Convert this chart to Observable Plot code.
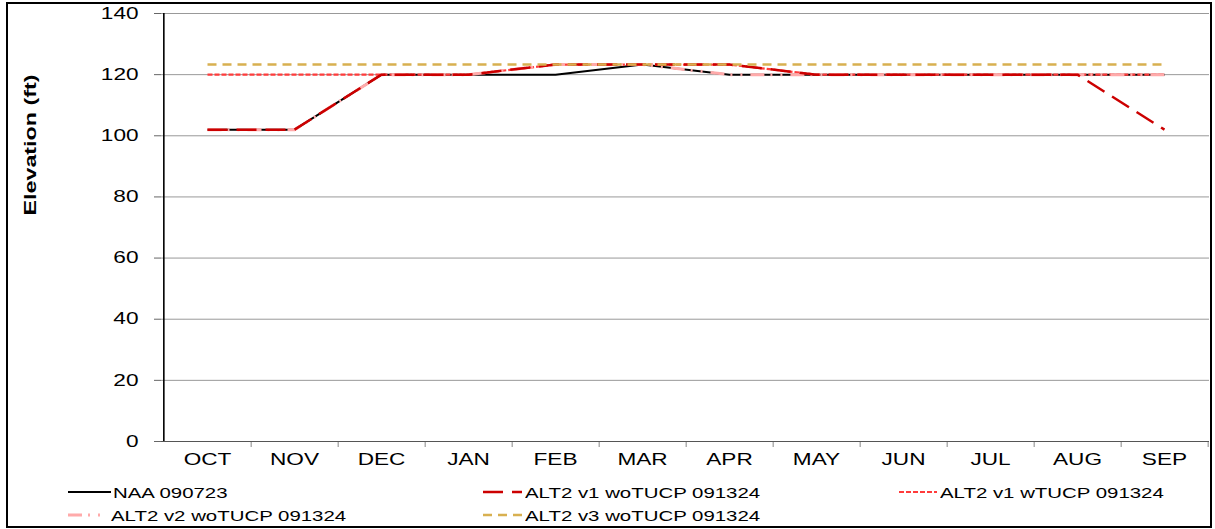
<!DOCTYPE html>
<html><head><meta charset="utf-8">
<script src="https://cdn.jsdelivr.net/npm/d3@7"></script>
<script src="https://cdn.jsdelivr.net/npm/@observablehq/plot@0.6"></script>
<style>
html,body{margin:0;padding:0;background:#fff;}
#wrap{position:relative;width:1215px;height:529px;overflow:hidden;font-family:"Liberation Sans",Arial,sans-serif;}
#chart{position:absolute;left:0;top:0;}
#border{position:absolute;left:6px;top:2px;width:1206px;height:526px;box-sizing:border-box;border:2.5px solid #000;pointer-events:none;}
.leg{position:absolute;display:flex;align-items:center;height:18px;white-space:nowrap;}
.leg svg{display:block;flex:none;}
.leg span{display:inline-block;font-size:15px;transform:scaleX(1.36);transform-origin:left center;color:#000;}
</style></head>
<body><div id="wrap"><div id="chart"></div><div id="legend"></div><div id="border"></div></div>
<script>
// ---- data ----
const months = ["OCT","NOV","DEC","JAN","FEB","MAR","APR","MAY","JUN","JUL","AUG","SEP"];
const naa090723     = [102,102,120,120,120,123.3,120,120,120,120,120,120];
const alt2v1woTUCP  = [102,102,120,120,123.3,123.3,123.3,120,120,120,120,102];
const alt2v1wTUCP   = [120,120,120,120,123.3,123.3,123.3,120,120,120,120,120];
const alt2v2woTUCP  = [102,102,120,120,123.3,123.3,120,120,120,120,120,120];
const alt2v3woTUCP  = [123.3,123.3,123.3,123.3,123.3,123.3,123.3,123.3,123.3,123.3,123.3,123.3];
const yTicks = [0,20,40,60,80,100,120,140];
const seriesNames = ["NAA 090723","ALT2 v1 woTUCP 091324","ALT2 v1 wTUCP 091324","ALT2 v2 woTUCP 091324","ALT2 v3 woTUCP 091324"];
const yLabel = "Elevation (ft)";

// ---- styles ----
const styles = {
  "NAA 090723":            {stroke:"#000000", strokeWidth:2,   dash:null},
  "ALT2 v1 woTUCP 091324": {stroke:"#cc0000", strokeWidth:2.5, dash:"20,9"},
  "ALT2 v1 wTUCP 091324":  {stroke:"#ff3b3b", strokeWidth:2.2, dash:"5,2"},
  "ALT2 v2 woTUCP 091324": {stroke:"#ffaaaa", strokeWidth:3,   dash:"14,6,2,8,2,8"},
  "ALT2 v3 woTUCP 091324": {stroke:"#d8b050", strokeWidth:2.6, dash:"9,6"}
};
const values = {
  "NAA 090723": naa090723,
  "ALT2 v1 woTUCP 091324": alt2v1woTUCP,
  "ALT2 v1 wTUCP 091324": alt2v1wTUCP,
  "ALT2 v2 woTUCP 091324": alt2v2woTUCP,
  "ALT2 v3 woTUCP 091324": alt2v3woTUCP
};
const rows = name => months.map((m,i) => ({month:m, value:values[name][i]}));

const W = 1215, H = 470, mL = 161, mR = 6, mT = 13, mB = 29;
const step = (W - mL - mR) / months.length;

const drawOrder = ["NAA 090723","ALT2 v1 wTUCP 091324","ALT2 v2 woTUCP 091324","ALT2 v1 woTUCP 091324","ALT2 v3 woTUCP 091324"];

const chart = Plot.plot({
  width: W, height: H,
  marginLeft: mL, marginRight: mR, marginTop: mT, marginBottom: mB,
  style: {fontFamily: "'Liberation Sans', Arial, sans-serif", fontSize: "16.5px", color: "#000", background: "transparent"},
  x: {type: "point", domain: months, padding: 0.5, label: null},
  y: {domain: [0, 140], label: null},
  marks: [
    Plot.gridY(yTicks.filter(v => v > 0), {stroke: "#999", strokeOpacity: 1, strokeWidth: 1}),
    Plot.axisY(yTicks, {tickSize: 7, tickPadding: 16, label: null, stroke: "#666"}),
    Plot.axisX(months, {tickSize: 6, fill: "none", dx: step / 2, label: null, stroke: "#888"}),
    Plot.axisX(months, {tickSize: 0, tickPadding: 12, label: null}),
    Plot.ruleY([0], {stroke: "#555", strokeWidth: 1.2}),
    Plot.ruleX([months[0]], {dx: -step / 2, stroke: "#000", strokeWidth: 1.6}),
    ...drawOrder.map(name => Plot.line(rows(name), {
      x: "month", y: "value",
      stroke: styles[name].stroke, strokeWidth: styles[name].strokeWidth,
      strokeDasharray: styles[name].dash, strokeLinecap: "butt"
    })),
    Plot.text([yLabel], {text: d => d, frameAnchor: "left", dx: -131, dy: -12, rotate: -90,
      fontWeight: "bold", fontSize: 17, fill: "#000", ariaLabel: "ylabel"})
  ]
});
document.getElementById("chart").append(chart);

// horizontally widened text as in the reference
chart.querySelectorAll("text").forEach(t => {
  if (t.closest('g[aria-label="ylabel"]')) {
    const tr = t.getAttribute("transform");
    t.setAttribute("transform", (tr ? tr + " " : "") + "scale(1,1.3)");
    return;
  }
  const w = t.getComputedTextLength();
  if (w > 0) {
    t.setAttribute("textLength", (w * 1.37).toFixed(1));
    t.setAttribute("lengthAdjust", "spacingAndGlyphs");
  }
});

// ---- legend ----
const legendPos = [
  {name: "NAA 090723",            x: 68,  w: 43, tx: 113, row: 0},
  {name: "ALT2 v1 woTUCP 091324", x: 483, w: 39, tx: 525, row: 0},
  {name: "ALT2 v1 wTUCP 091324",  x: 899, w: 38, tx: 940, row: 0},
  {name: "ALT2 v2 woTUCP 091324", x: 68,  w: 39, tx: 111, row: 1},
  {name: "ALT2 v3 woTUCP 091324", x: 483, w: 39, tx: 525, row: 1}
];
const rowY = [492, 515];
const legend = document.getElementById("legend");
legendPos.forEach(p => {
  const s = styles[p.name];
  const d = document.createElement("div");
  d.className = "leg";
  d.style.left = p.x + "px";
  d.style.top = (rowY[p.row] - 9) + "px";
  d.innerHTML = `<svg width="${p.w}" height="18"><line x1="0" x2="${p.w}" y1="9" y2="9" stroke="${s.stroke}" stroke-width="${s.strokeWidth}" ${s.dash ? `stroke-dasharray="${s.dash}"` : ""}/></svg><span style="margin-left:${p.tx - p.x - p.w}px">${p.name}</span>`;
  legend.append(d);
});
</script>
</body></html>
